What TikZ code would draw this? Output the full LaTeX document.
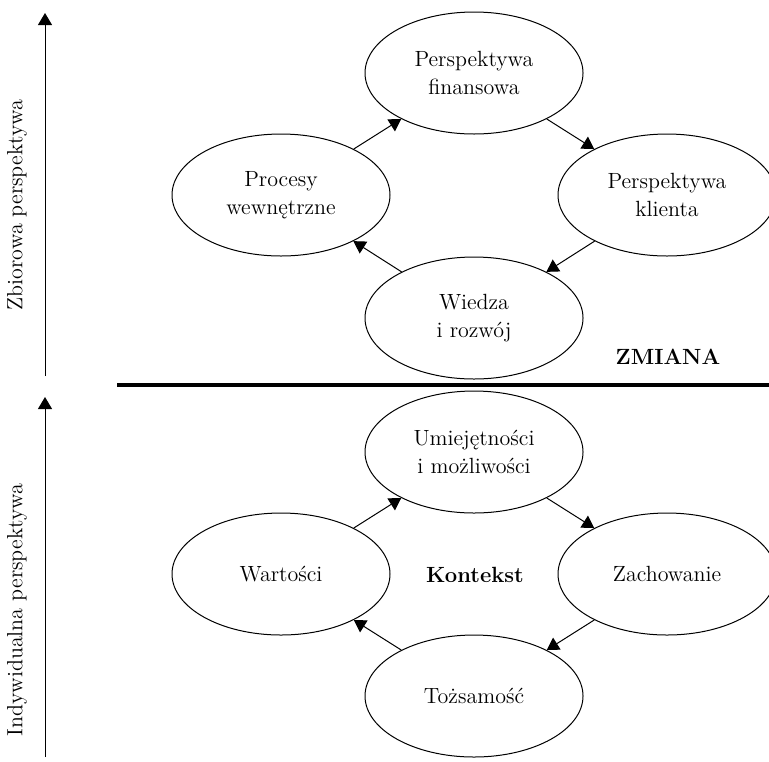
\documentclass[tikz,border=0pt]{standalone}
\usepackage{tikz}
\usetikzlibrary{shapes.geometric,arrows.meta,positioning}

\begin{document}
\begin{tikzpicture} [
x=0.5pt, y=-0.5pt,
every node/.style = { font=\fontsize{11}{14}\selectfont },
phase/.style    = { ellipse, draw=black, line width=0.5pt,
    minimum width=109pt, minimum height=61pt, inner sep=0pt,
    text centered, align=center },
axislabel/.style = { rotate=90, inner sep=0pt },
tag/.style      = { font=\fontsize{11}{14}\selectfont\bfseries, inner sep=0pt },
line/.style     = { draw, line width=0.5pt,
    -{Triangle[width=7pt,length=6pt]}, shorten >=0pt },
]
\useasboundingbox (0,0) rectangle (769,761);

% upper cycle
\node [phase] (fin)   at (474,73)  {Perspektywa\\finansowa};
\node [phase] (proc)  at (281,195) {Procesy\\wewnętrzne};
\node [phase] (kli)   at (667,195) {Perspektywa\\klienta};
\node [phase] (wie)   at (474,318) {Wiedza\\i rozwój};
\node [tag]   (zm)    at (668,357) {ZMIANA};

% lower cycle
\node [phase] (umi)   at (474,452) {Umiejętności\\i możliwości};
\node [phase] (war)   at (281,574) {Wartości};
\node [phase] (zach)  at (667,574) {Zachowanie};
\node [phase] (toz)   at (474,696) {Tożsamość};
\node [tag]   (kon)   at (475,575) {Kontekst};

% side axes
\coordinate (topS) at (45,376);
\coordinate (topE) at (45,13);
\coordinate (botS) at (45,757);
\coordinate (botE) at (45,397);
\node [axislabel] (zb) at (17,205) {Zbiorowa perspektywa};
\node [axislabel] (in) at (17,610) {Indywidualna perspektywa};

% dividing rule
\coordinate (cutL) at (117,385);
\coordinate (cutR) at (769,385);
\draw [line width=2pt] (cutL) -- (cutR);

% connect all nodes defined above
\begin{scope} [every path/.style=line]
\path (proc) -- (fin);
\path (fin)  -- (kli);
\path (kli)  -- (wie);
\path (wie)  -- (proc);
\path (war)  -- (umi);
\path (umi)  -- (zach);
\path (zach) -- (toz);
\path (toz)  -- (war);
\path (topS) -- (topE);
\path (botS) -- (botE);
\end{scope}

\end{tikzpicture}
\end{document}
